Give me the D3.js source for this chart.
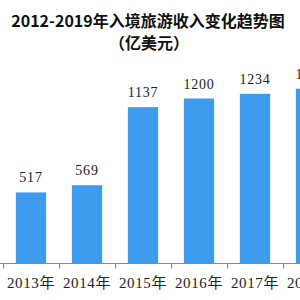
<!DOCTYPE html>
<html>
<head>
<meta charset="utf-8">
<script src="https://cdn.jsdelivr.net/npm/d3@7"></script>
<style>
    body { margin: 0; background: #fff; }
    svg { display: block; }
</style>
</head>
<body>
<div id="chart"></div>
<script>
// data
let years = ["2012年", "2013年", "2014年", "2015年", "2016年", "2017年", "2018年", "2019年"];
let values = [500, 517, 569, 1137, 1200, 1234, 1271, 1313];
let title = "2012-2019年入境旅游收入变化趋势图";
let subtitle = "（亿美元）";

let width = 300, height = 300;
let baseline = 263.5;

let svg = d3.select("#chart").append("svg")
    .attr("width", width)
    .attr("height", height);

// x scale - chart is cropped, 2012 band sits off to the left
let x = d3.scaleBand()
    .domain(years)
    .range([-53, -53 + 56 * years.length])
    .paddingInner(0.46)
    .paddingOuter(0.23);

let y = d3.scaleLinear()
    .domain([0, 1400])
    .range([baseline, baseline - 1400 * 0.1375]);

// title
svg.append("text")
    .attr("x", 148)
    .attr("y", 27)
    .attr("text-anchor", "middle")
    .style("font-family", "'Noto Sans CJK SC', sans-serif")
    .style("font-weight", "bold")
    .style("font-size", "16px")
    .attr("fill", "#111")
    .text(title);

svg.append("text")
    .attr("x", 149)
    .attr("y", 49)
    .attr("text-anchor", "middle")
    .style("font-family", "'Noto Sans CJK SC', sans-serif")
    .style("font-weight", "bold")
    .style("font-size", "16px")
    .attr("fill", "#111")
    .text(subtitle);

// bars
svg.selectAll(".bar")
    .data(values)
    .enter().append("rect")
    .attr("class", "bar")
    .attr("x", (d, i) => x(years[i]))
    .attr("y", d => y(d))
    .attr("width", x.bandwidth())
    .attr("height", d => baseline - y(d))
    .attr("fill", "#3d9cee");

// value labels
svg.selectAll(".val")
    .data(values)
    .enter().append("text")
    .attr("class", "val")
    .attr("x", (d, i) => x(years[i]) + x.bandwidth() / 2)
    .attr("y", d => y(d) - 10)
    .attr("text-anchor", "middle")
    .style("font-family", "'Liberation Serif', serif")
    .style("font-size", "14px")
    .style("letter-spacing", "0.8px")
    .attr("fill", "#222")
    .text(d => d);

// axis line
svg.append("line")
    .attr("x1", 0).attr("x2", width)
    .attr("y1", baseline).attr("y2", baseline)
    .attr("stroke", "#888")
    .attr("stroke-width", 1);

// ticks at band boundaries
let step = x.step();
svg.selectAll(".tick")
    .data(years)
    .enter().append("line")
    .attr("class", "tick")
    .attr("x1", d => x(d) - (step - x.bandwidth()) / 2 + 0.5)
    .attr("x2", d => x(d) - (step - x.bandwidth()) / 2 + 0.5)
    .attr("y1", baseline)
    .attr("y2", baseline + 5)
    .attr("stroke", "#888");

// year labels
svg.selectAll(".year")
    .data(years)
    .enter().append("text")
    .attr("class", "year")
    .attr("x", d => x(d) + x.bandwidth() / 2)
    .attr("y", 288)
    .attr("text-anchor", "middle")
    .style("font-family", "'Liberation Serif', 'Noto Sans CJK SC', serif")
    .style("font-size", "15px")
    .style("letter-spacing", "0.6px")
    .attr("fill", "#222")
    .text(d => d);
</script>
</body>
</html>
